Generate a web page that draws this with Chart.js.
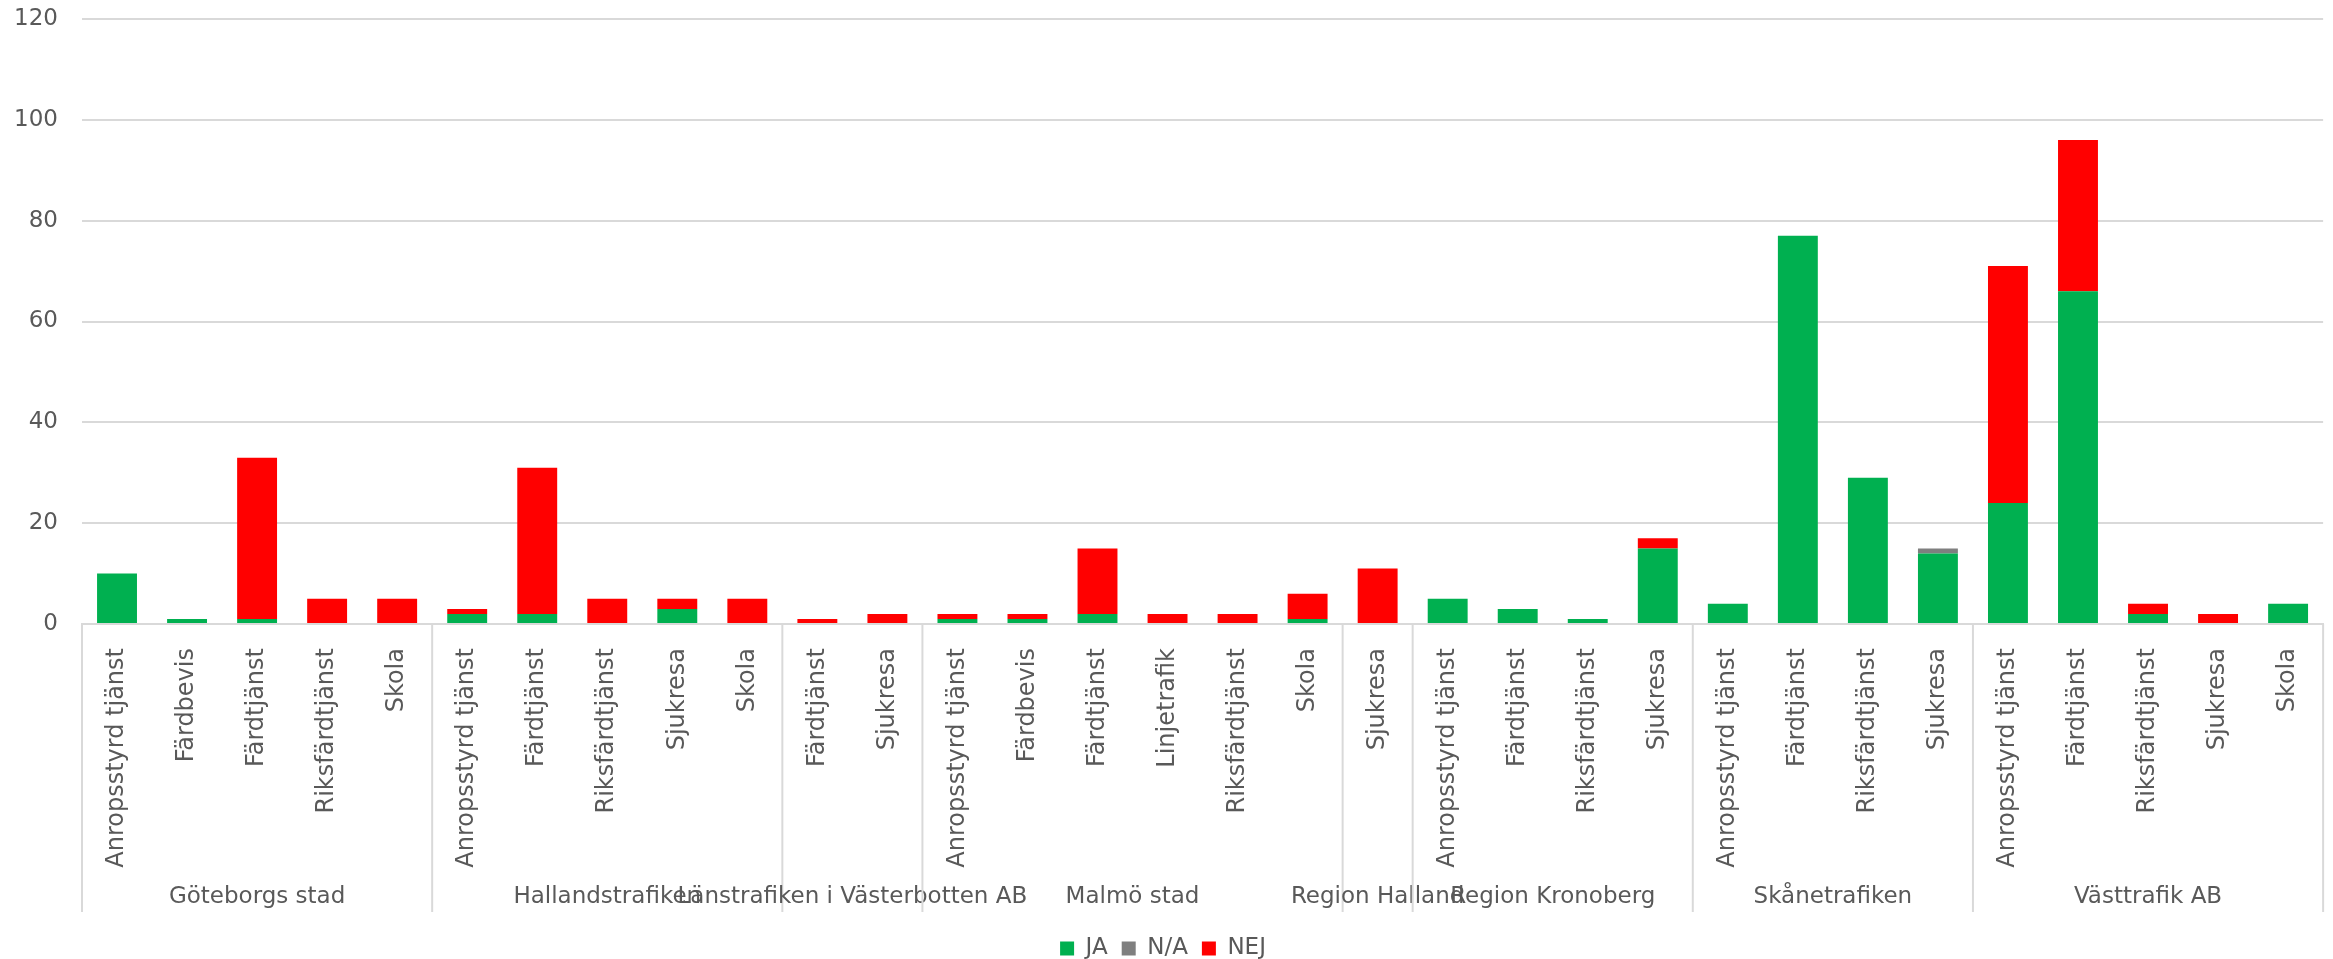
<!DOCTYPE html>
<html>
<head>
<meta charset="utf-8">
<script src="https://cdn.jsdelivr.net/npm/chart.js"></script>
<style>
body { margin: 0; background: #ffffff; }
#wrap { width: 2333px; height: 959px; }
</style>
</head>
<body>
<div id="wrap"><canvas id="canvas1"></canvas></div>
<script>
const groupNames = ["Göteborgs stad", "Hallandstrafiken", "Länstrafiken i Västerbotten AB", "Malmö stad",
    "Region Halland", "Region Kronoberg", "Skånetrafiken", "Västtrafik AB"];
const groupSizes = [5, 5, 2, 6, 1, 4, 4, 5];

const categories = [
    "Anropsstyrd tjänst", "Färdbevis", "Färdtjänst", "Riksfärdtjänst", "Skola",
    "Anropsstyrd tjänst", "Färdtjänst", "Riksfärdtjänst", "Sjukresa", "Skola",
    "Färdtjänst", "Sjukresa",
    "Anropsstyrd tjänst", "Färdbevis", "Färdtjänst", "Linjetrafik", "Riksfärdtjänst", "Skola",
    "Sjukresa",
    "Anropsstyrd tjänst", "Färdtjänst", "Riksfärdtjänst", "Sjukresa",
    "Anropsstyrd tjänst", "Färdtjänst", "Riksfärdtjänst", "Sjukresa",
    "Anropsstyrd tjänst", "Färdtjänst", "Riksfärdtjänst", "Sjukresa", "Skola"
];

const jaValues  = [10, 1, 1, 0, 0,  2, 2, 0, 3, 0,  0, 0,  1, 1, 2, 0, 0, 1,  0,  5, 3, 1, 15,  4, 77, 29, 14,  24, 66, 2, 0, 4];
const naValues  = [0, 0, 0, 0, 0,  0, 0, 0, 0, 0,  0, 0,  0, 0, 0, 0, 0, 0,  0,  0, 0, 0, 0,  0, 0, 0, 1,  0, 0, 0, 0, 0];
const nejValues = [0, 0, 32, 5, 5,  1, 29, 5, 2, 5,  1, 2,  1, 1, 13, 2, 2, 5,  11,  0, 0, 0, 2,  0, 0, 0, 0,  47, 30, 2, 2, 0];

const yMax = 120;
const yStep = 20;

const textColor = "#595959";
const lineColor = "#d9d9d9";

Chart.defaults.font.family = "'DejaVu Sans'";
Chart.defaults.color = textColor;

// group names under the rotated category labels, plus the separators
const groupLabels = {
    id: "groupLabels",
    afterDraw: function(chart){
        const ctx = chart.ctx;
        const xScale = chart.scales.x;
        const half = (xScale.getPixelForValue(1) - xScale.getPixelForValue(0)) / 2;
        const top = xScale.top;
        const bottom = xScale.top + 288;
        ctx.save();
        ctx.strokeStyle = lineColor;
        ctx.lineWidth = 2;
        ctx.fillStyle = textColor;
        ctx.font = "23px 'DejaVu Sans'";
        ctx.textAlign = "center";
        ctx.textBaseline = "middle";
        let start = 0;
        for(let g = 0; g < groupNames.length; g++){
            const end = start + groupSizes[g] - 1;
            const left = xScale.getPixelForValue(start) - half;
            ctx.beginPath();
            ctx.moveTo(left, top);
            ctx.lineTo(left, bottom);
            ctx.stroke();
            const mid = (xScale.getPixelForValue(start) + xScale.getPixelForValue(end)) / 2;
            ctx.fillText(groupNames[g], mid, top + 273);
            start = end + 1;
        }
        const right = xScale.getPixelForValue(categories.length - 1) + half;
        ctx.beginPath();
        ctx.moveTo(right, top);
        ctx.lineTo(right, bottom);
        ctx.stroke();
        ctx.restore();
    }
};

const data1 = {
    labels: categories,
    datasets: [
        { label: "JA", data: jaValues, backgroundColor: "#00b050" },
        { label: "N/A", data: naValues, backgroundColor: "#7f7f7f" },
        { label: "NEJ", data: nejValues, backgroundColor: "#ff0000" }
    ]
};

const config1 = {
    type: "bar",
    data: data1,
    plugins: [groupLabels],
    options: {
        responsive: true,
        maintainAspectRatio: false,
        animation: false,
        categoryPercentage: 1,
        barPercentage: 0.57,
        layout: { padding: { top: 19, right: 7, left: 0, bottom: 0 } },
        plugins: {
            tooltip: { enabled: false },
            legend: {
                position: "bottom",
                maxHeight: 36,
                labels: {
                    font: { size: 23 },
                    boxWidth: 14,
                    boxHeight: 14,
                    padding: 14,
                    color: textColor
                }
            }
        },
        scales: {
            x: {
                stacked: true,
                grid: { display: false },
                border: { display: true, color: lineColor, width: 2 },
                ticks: {
                    autoSkip: false,
                    minRotation: 90,
                    maxRotation: 90,
                    padding: 16,
                    font: { size: 24 },
                    color: textColor
                },
                afterFit: function(scale){ scale.height = 299; }
            },
            y: {
                stacked: true,
                min: 0,
                max: yMax,
                grid: { color: lineColor, lineWidth: 2, drawTicks: false },
                border: { display: false },
                ticks: {
                    stepSize: yStep,
                    padding: 24,
                    font: { size: 23 },
                    color: textColor
                },
                afterFit: function(scale){
                    scale.width = 82;
                    scale.paddingTop = 0;
                    scale.paddingBottom = 0;
                }
            }
        }
    }
};

new Chart(document.getElementById("canvas1"), config1);
</script>
</body>
</html>
